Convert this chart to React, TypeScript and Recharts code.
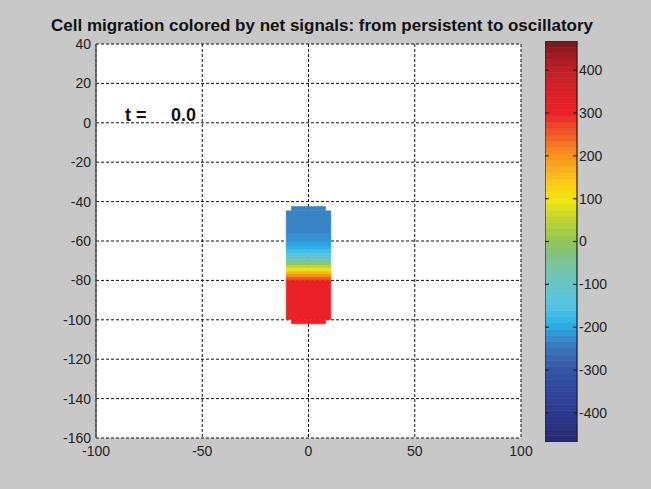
import React from 'react';
import {
  ComposedChart, XAxis, YAxis, CartesianGrid, ReferenceArea, ReferenceLine,
} from 'recharts';

const FONT = '"Liberation Sans", Arial, sans-serif';

// axes
const xTicks = [-100, -50, 0, 50, 100];
const yTicks = [40, 20, 0, -20, -40, -60, -80, -100, -120, -140, -160];
const barTicks = [400, 300, 200, 100, 0, -100, -200, -300, -400];
const signalMin = -468;
const signalMax = 468;
const barLevels = 64;

// cell at t = 0.0 : band edges (top -> bottom) and net signal of each band
const cellEdges = [-42.5, -56, -60, -62.5, -64.5, -66.5, -68, -69.5, -71, -72.5, -74, -75.5, -77, -78.5, -80, -102];
const cellSignals = [-235, -220, -205, -190, -165, -130, -95, -45, 5, 60, 110, 160, 210, 260, 305];
const cellHalfWidth = 10.5;
const capHalfWidth = 8;
const capHeight = 2.2;

// colormap (jet-like, as printed)
const colorStops: [number, string][] = [
  [-468, '#25296b'], [-400, '#2b3990'], [-300, '#3455a5'], [-250, '#3b74ba'],
  [-215, '#3396d6'], [-190, '#2cb2e8'], [-150, '#52c4e4'], [-100, '#66c5c8'],
  [-50, '#78c49c'], [0, '#8fc55a'], [50, '#bdd532'], [100, '#f4e70e'],
  [150, '#fcc016'], [200, '#f7941d'], [250, '#f15d25'], [300, '#ec2227'],
  [400, '#c21f27'], [468, '#7a1719'],
];

const hex2rgb = (h: string) => [1, 3, 5].map((i) => parseInt(h.slice(i, i + 2), 16));

const signalColor = (v: number) => {
  if (v <= colorStops[0][0]) return colorStops[0][1];
  for (let i = 1; i < colorStops.length; i++) {
    const [v1, c1] = colorStops[i];
    if (v <= v1) {
      const [v0, c0] = colorStops[i - 1];
      const t = (v - v0) / (v1 - v0);
      const a = hex2rgb(c0);
      const b = hex2rgb(c1);
      const rgb = a.map((x, k) => Math.round(x + (b[k] - x) * t));
      return `rgb(${rgb.join(',')})`;
    }
  }
  return colorStops[colorStops.length - 1][1];
};

const tickStyle = { fill: '#222', fontSize: 14, fontFamily: FONT };

const cellBands = cellSignals.map((s, i) => {
  let y1 = cellEdges[i];
  let y2 = cellEdges[i + 1];
  if (i === 0) y1 = cellEdges[0] - capHeight;
  if (i === cellSignals.length - 1) y2 = cellEdges[cellEdges.length - 1] + capHeight;
  return { y1, y2, color: signalColor(s) };
});

const step = (signalMax - signalMin) / barLevels;
const barBands = Array.from({ length: barLevels }, (_, i) => {
  const lo = signalMin + i * step;
  return { y1: lo, y2: lo + step, color: signalColor(lo + step / 2) };
});

const MainPlot = () => (
  <ComposedChart
    width={651}
    height={489}
    data={[]}
    margin={{ top: 44, right: 130, bottom: 21, left: 0 }}
    style={{ position: 'absolute', left: 0, top: 0 }}
  >
    <CartesianGrid fill="#fff" fillOpacity={1} stroke="#111" strokeDasharray="3 2" />
    <XAxis
      type="number"
      dataKey="x"
      domain={[-100, 100]}
      ticks={xTicks}
      height={30}
      axisLine={false}
      tickLine={false}
      tick={tickStyle}
      tickMargin={2}
      interval={0}
      allowDataOverflow
    />
    <YAxis
      type="number"
      dataKey="y"
      domain={[-160, 40]}
      ticks={yTicks}
      width={96}
      axisLine={{ stroke: '#555', strokeWidth: 1.5 }}
      tickLine={false}
      tickSize={3}
      tickMargin={2}
      tick={tickStyle}
      interval={0}
      allowDataOverflow
    />
    {cellBands.map((b, i) => (
      <ReferenceArea
        key={i}
        x1={-cellHalfWidth}
        x2={cellHalfWidth}
        y1={b.y2}
        y2={b.y1}
        fill={b.color}
        fillOpacity={1}
        stroke={b.color}
        strokeWidth={0.6}
        ifOverflow="visible"
      />
    ))}
    <ReferenceArea
      x1={-capHalfWidth}
      x2={capHalfWidth}
      y1={cellEdges[0] - capHeight}
      y2={cellEdges[0]}
      fill={cellBands[0].color}
      fillOpacity={1}
      stroke={cellBands[0].color}
      strokeWidth={0.6}
      ifOverflow="visible"
    />
    <ReferenceArea
      x1={-capHalfWidth}
      x2={capHalfWidth}
      y1={cellEdges[cellEdges.length - 1]}
      y2={cellEdges[cellEdges.length - 1] + capHeight}
      fill={cellBands[cellBands.length - 1].color}
      fillOpacity={1}
      stroke={cellBands[cellBands.length - 1].color}
      strokeWidth={0.6}
      ifOverflow="visible"
    />
  </ComposedChart>
);

const ColorBar = () => (
  <ComposedChart
    width={100}
    height={401}
    data={[]}
    margin={{ top: 0, right: 28, bottom: 0, left: 0 }}
    style={{ position: 'absolute', left: 545, top: 41 }}
  >
    <XAxis
      type="number"
      dataKey="x"
      domain={[0, 1]}
      ticks={[0, 1]}
      height={0}
      axisLine={false}
      tickLine={false}
      tick={false}
      allowDataOverflow
    />
    <YAxis
      type="number"
      dataKey="y"
      orientation="right"
      domain={[signalMin, signalMax]}
      ticks={barTicks}
      width={40}
      axisLine={false}
      tickLine={false}
      tickSize={0}
      tickMargin={2}
      tick={tickStyle}
      interval={0}
      allowDataOverflow
    />
    {barBands.map((b, i) => (
      <ReferenceArea
        key={i}
        x1={0}
        x2={1}
        y1={b.y1}
        y2={b.y2}
        fill={b.color}
        fillOpacity={1}
        stroke={b.color}
        strokeWidth={0.5}
        ifOverflow="visible"
      />
    ))}
    {barTicks.map((t) => (
      <ReferenceLine
        key={'l' + t}
        segment={[{ x: 0, y: t }, { x: 0.12, y: t }]}
        stroke="#222"
        strokeWidth={1.2}
        ifOverflow="visible"
      />
    ))}
    {barTicks.map((t) => (
      <ReferenceLine
        key={'r' + t}
        segment={[{ x: 0.88, y: t }, { x: 1, y: t }]}
        stroke="#222"
        strokeWidth={1.2}
        ifOverflow="visible"
      />
    ))}
    <ReferenceArea
      x1={0}
      x2={1}
      y1={signalMin}
      y2={signalMax}
      fill="none"
      stroke="#222"
      strokeWidth={1.2}
      ifOverflow="visible"
    />
  </ComposedChart>
);

export default function App() {
  return (
    <div
      style={{
        position: 'absolute', left: 0, top: 0, width: 651, height: 489,
        background: '#c8c8c8', overflow: 'hidden', fontFamily: FONT,
      }}
    >
      <MainPlot />
      <ColorBar />
      <svg width={651} height={489} style={{ position: 'absolute', left: 0, top: 0, pointerEvents: 'none' }}>
        <text
          x={51}
          y={31}
          fontFamily={FONT}
          fontWeight="bold"
          fontSize={16}
          fill="#111"
          textLength={542}
          lengthAdjust="spacingAndGlyphs"
        >
          Cell migration colored by net signals: from persistent to oscillatory
        </text>
        <text x={125} y={121} fontFamily={FONT} fontWeight="bold" fontSize={18} fill="#111">t =</text>
        <text x={171} y={121} fontFamily={FONT} fontWeight="bold" fontSize={18} fill="#111">0.0</text>
      </svg>
    </div>
  );
}
